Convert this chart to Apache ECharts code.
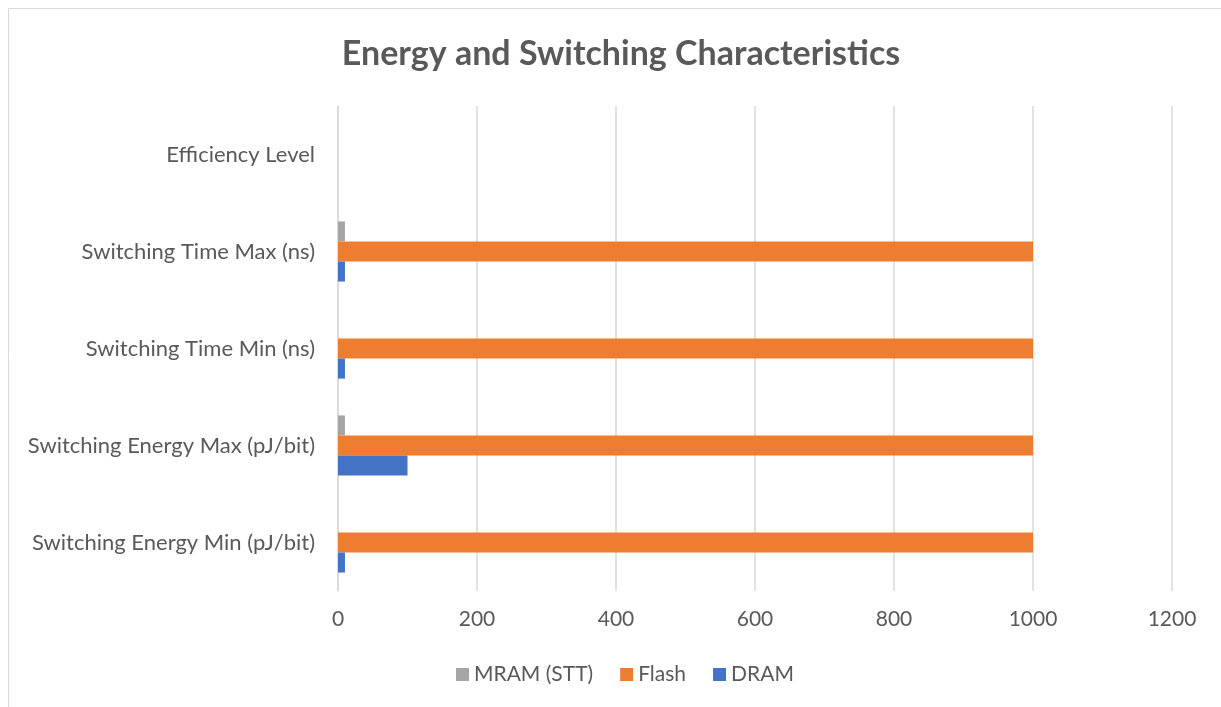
<!DOCTYPE html>
<html>
<head>
<meta charset="utf-8">
<script src="https://cdn.jsdelivr.net/npm/echarts@6/dist/echarts.min.js"></script>
<style>
html,body{margin:0;padding:0;background:#fff;}
#c{width:1221px;height:707px;}
</style>
</head>
<body>
<div id="c"></div>
<script>
const categories = ["Switching Energy Min (pJ/bit)", "Switching Energy Max (pJ/bit)", "Switching Time Min (ns)", "Switching Time Max (ns)", "Efficiency Level"];
const dram = [10, 100, 10, 10, null];
const flash = [1000, 1000, 1000, 1000, null];
const mram = [0, 10, 0, 10, null];
const xTicks = [0, 200, 400, 600, 800, 1000, 1200];

const font = "Lato, 'Open Sans', sans-serif";
const chart = echarts.init(document.getElementById('c'));
chart.setOption({
  animation: false,
  title: {
    text: "Energy and Switching Characteristics",
    left: 616, top: 32, textAlign: 'center',
    textStyle: {fontFamily: font, fontSize: 34, fontWeight: 'bold', color: '#595959'}
  },
  graphic: [{
    type: 'rect', shape: {x: 8.5, y: 8.5, width: 1230, height: 700},
    style: {fill: 'none', stroke: '#d9d9d9', lineWidth: 1}, silent: true
  }],
  legend: {
    data: ["MRAM (STT)", "Flash", "DRAM"],
    bottom: 17, left: 451,
    itemWidth: 13, itemHeight: 13, itemGap: 27, icon: 'rect',
    textStyle: {fontFamily: font, fontSize: 21, color: '#595959'}
  },
  grid: {left: 338, right: 49, top: 106, bottom: 116, containLabel: false},
  xAxis: {
    type: 'value', min: 0, max: 1200, interval: 200,
    axisLine: {show: false}, axisTick: {show: false},
    splitLine: {lineStyle: {color: '#d9d9d9', width: 1.5}},
    axisLabel: {fontFamily: font, fontSize: 21, color: '#595959', margin: 18,
      formatter: v => xTicks.includes(v) ? String(v) : ''}
  },
  yAxis: {
    type: 'category', data: categories,
    axisLine: {show: true, lineStyle: {color: '#d9d9d9', width: 1.5}},
    axisTick: {show: false},
    axisLabel: {fontFamily: font, fontSize: 22, color: '#595959', margin: 23}
  },
  series: [
    {name: "MRAM (STT)", type: 'bar', data: mram, barGap: '0%', barCategoryGap: '38%', itemStyle: {color: '#A5A5A5'}},
    {name: "Flash", type: 'bar', data: flash, itemStyle: {color: '#ED7D31'}},
    {name: "DRAM", type: 'bar', data: dram, itemStyle: {color: '#4472C4'}}
  ]
});
</script>
</body>
</html>
